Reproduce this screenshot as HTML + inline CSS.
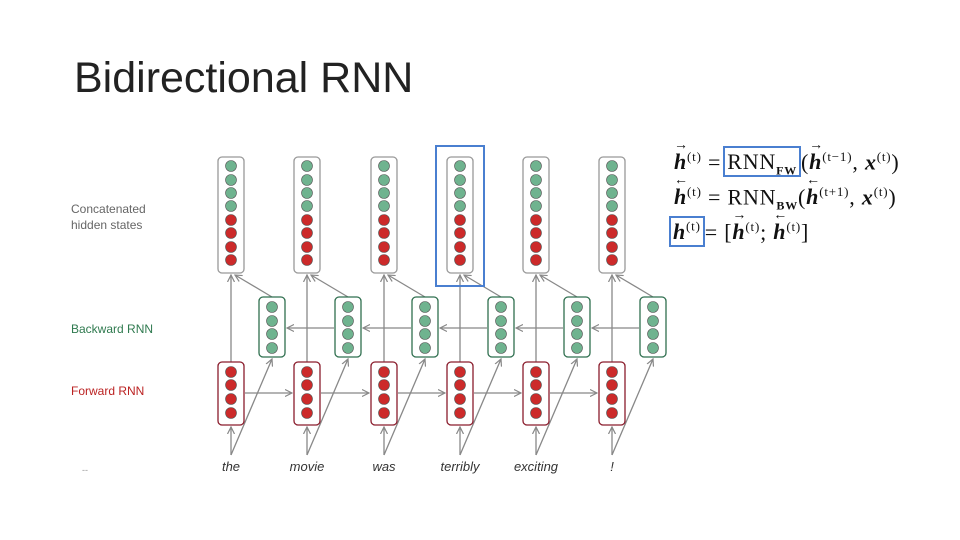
<!DOCTYPE html>
<html><head><meta charset="utf-8"><style>
body{margin:0;width:960px;height:540px;background:#fff;overflow:hidden;position:relative;font-family:"Liberation Sans",sans-serif}
.t{position:absolute;left:74px;top:54px;font-size:43px;color:#222}
.l{position:absolute;font-size:12px;line-height:16px}
.eq{position:absolute;font-family:"Liberation Serif",serif;font-size:22px;letter-spacing:0.8px;color:#111;white-space:nowrap}
.eq b{font-style:italic}
.v{position:relative;display:inline-block}
.v i{position:absolute;left:0px;top:-11px;font-style:normal;font-size:14px;font-weight:normal}
.bx{border:2.5px solid #4a7fd0;padding:1px 2px;margin-left:-5px}
sup{font-size:13px}
sub{font-size:12px;font-weight:bold}
</style></head><body>
<div class="t">Bidirectional RNN</div>
<div class="l" style="left:71px;top:201px;color:#666">Concatenated<br>hidden states</div>
<div class="l" style="left:71px;top:321px;color:#2f7a4f">Backward RNN</div>
<div class="l" style="left:71px;top:383px;color:#b22">Forward RNN</div>
<div class="l" style="left:82px;top:462px;color:#999;font-size:9px">--</div>
<svg width="960" height="540" style="position:absolute;left:0;top:0">
<defs><marker id="a" markerWidth="8" markerHeight="8" refX="7" refY="4" orient="auto" markerUnits="userSpaceOnUse"><path d="M0,0.5L7,4L0,7.5" fill="none" stroke="#888" stroke-width="1.2"/></marker></defs>
<g id="d"></g>
</svg>
<div class="eq" style="left:674px;top:149px"><b class="v">h<i>→</i></b><sup>(t)</sup> =<span class="bx" style="margin-left:2px">RNN<sub>FW</sub></span>(<b class="v">h<i>→</i></b><sup>(t−1)</sup>, <b>x</b><sup>(t)</sup>)</div>
<div class="eq" style="left:674px;top:184px"><b class="v">h<i>←</i></b><sup>(t)</sup> = RNN<sub>BW</sub>(<b class="v">h<i>←</i></b><sup>(t+1)</sup>, <b>x</b><sup>(t)</sup>)</div>
<div class="eq" style="left:674px;top:219px"><span class="bx"><b>h</b><sup>(t)</sup></span>= [<b class="v">h<i>→</i></b><sup>(t)</sup>; <b class="v">h<i>←</i></b><sup>(t)</sup>]</div>
<div style="position:absolute;left:435px;top:145px;width:46px;height:138px;border:2.5px solid #4a7fd0"></div>
<script>
var g=document.getElementById('d'),s='';
var xs=[231,307,384,460,536,612],w=['the','movie','was','terribly','exciting','!'];
function c(x,y,f){return '<circle cx="'+x+'" cy="'+y+'" r="5.5" fill="'+f+'" stroke="#555" stroke-width="0.6"/>';}
function ln(x1,y1,x2,y2){return '<line x1="'+x1+'" y1="'+y1+'" x2="'+x2+'" y2="'+y2+'" stroke="#888" stroke-width="1.3" marker-end="url(#a)"/>';}
var G='#6fb38f',R='#cc2a2a';
xs.forEach(function(x,i){
 var b=x+41;
 s+=ln(x,362,x,275);
 s+=ln(b,297,x+4,275);
 s+=ln(x,455,x,427);
 s+=ln(x,455,b,359);
 if(i<5){s+=ln(x+14,393,xs[i+1]-15,393);}
 if(i>0){s+=ln(b-14,328,xs[i-1]+56,328);}
 s+='<rect x="'+(x-13)+'" y="157" width="26" height="116" rx="4" fill="#fff" stroke="#999" stroke-width="1.3"/>';
 [166,180,193,206].forEach(function(y){s+=c(x,y,G)});
 [220,233,247,260].forEach(function(y){s+=c(x,y,R)});
 s+='<rect x="'+(b-13)+'" y="297" width="26" height="60" rx="4" fill="#fff" stroke="#2f6f4f" stroke-width="1.3"/>';
 [307,321,334,348].forEach(function(y){s+=c(b,y,G)});
 s+='<rect x="'+(x-13)+'" y="362" width="26" height="63" rx="4" fill="#fff" stroke="#8a1c2c" stroke-width="1.3"/>';
 [372,385,399,413].forEach(function(y){s+=c(x,y,R)});
 s+='<text x="'+x+'" y="471" text-anchor="middle" font-family="Liberation Sans" font-style="italic" font-size="13" fill="#333">'+w[i]+'</text>';
});
g.innerHTML=s;
</script>
</body></html>
